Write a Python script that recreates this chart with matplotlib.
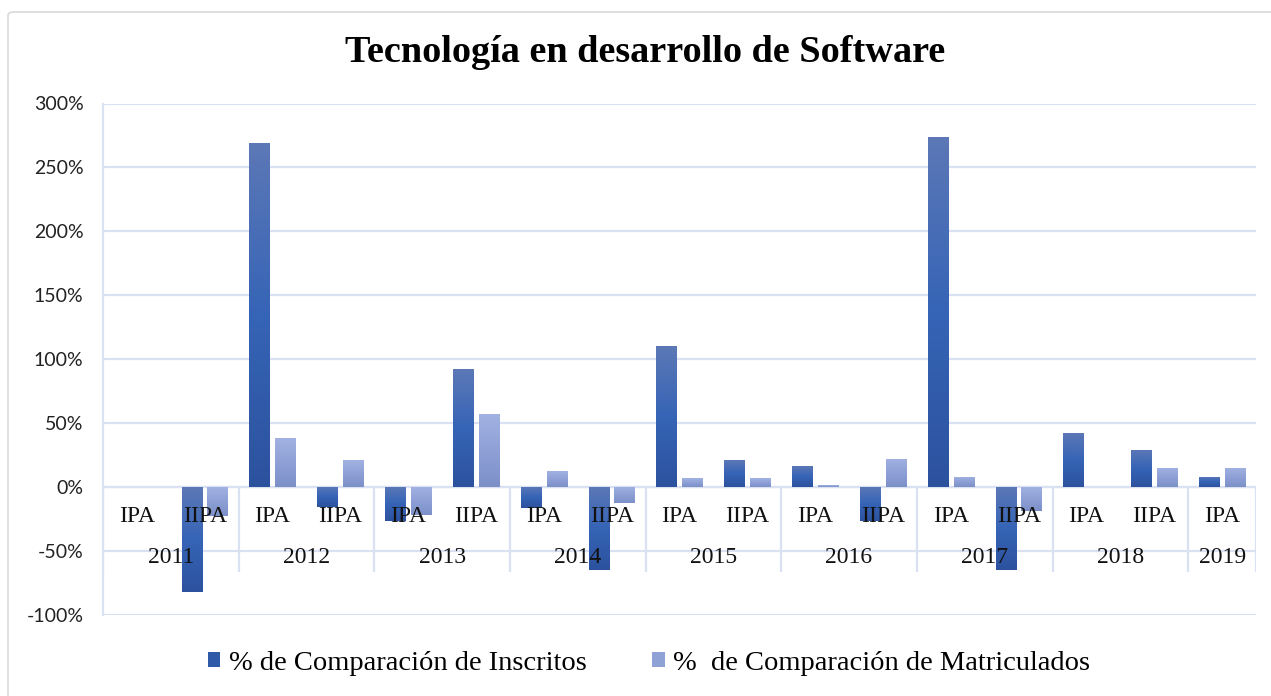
import numpy as np
import matplotlib
matplotlib.use("Agg")
import matplotlib.pyplot as plt
from matplotlib.patches import FancyBboxPatch

# ---- data ----
years = ["2011", "2012", "2013", "2014", "2015", "2016", "2017", "2018", "2019"]
periods = ["IPA", "IIPA", "IPA", "IIPA", "IPA", "IIPA", "IPA", "IIPA", "IPA",
           "IIPA", "IPA", "IIPA", "IPA", "IIPA", "IPA", "IIPA", "IPA"]
year_sizes = [2, 2, 2, 2, 2, 2, 2, 2, 1]
inscritos = [0, -82, 269, -16, -27, 92, -17, -65, 110, 21, 16, -27, 274, -65, 42, 29, 8]
matriculados = [0, -23, 38, 21, -22, 57, 12, -13, 7, 7, 1.5, 22, 8, -19, 0, 15, 15]
yticks = [-100, -50, 0, 50, 100, 150, 200, 250, 300]
title = "Tecnología en desarrollo de Software"
label_ins = "% de Comparación de Inscritos"
label_mat = "%  de Comparación de Matriculados"

W, H = 1271, 696
fig = plt.figure(figsize=(W / 100, H / 100), dpi=100)
fig.patch.set_facecolor("white")

# chart border
border = FancyBboxPatch((8 / W, 0.0 - 0.05), 1.2, (696 - 12) / H + 0.05,
                        boxstyle="round,pad=0,rounding_size=0.005",
                        transform=fig.transFigure, fill=False,
                        edgecolor="#d9d9d9", linewidth=1.2)
fig.patches.append(border)

left, right = 103 / W, 1256 / W
top_px, bot_px = 103.5, 614.5
ax = fig.add_axes([left, 1 - bot_px / H, right - left, (bot_px - top_px) / H])

x = np.arange(len(periods))
bw = 0.30
off = 0.19
grid_c = "#d9e1f2"

ins_bars = ax.bar(x - off, inscritos, bw, color="#3462b0", zorder=3, linewidth=0)
mat_bars = ax.bar(x + off, matriculados, bw, color="#90a4d8", zorder=3, linewidth=0)

def grad(stops, n=256):
    stops = np.array(stops, dtype=float) / 255.0
    pos = np.linspace(0, 1, len(stops))
    t = np.linspace(0, 1, n)
    arr = np.stack([np.interp(t, pos, stops[:, c]) for c in range(3)], axis=1)
    return arr[:, None, :]

g_ins = grad([(92, 120, 182), (54, 100, 182), (44, 82, 158)])
g_mat = grad([(162, 178, 226), (142, 160, 214), (124, 144, 200)])

for bars, g in ((ins_bars, g_ins), (mat_bars, g_mat)):
    for r in bars:
        x0, y0, w, h = r.get_x(), r.get_y(), r.get_width(), r.get_height()
        if h == 0:
            continue
        lo, hi = min(y0, y0 + h), max(y0, y0 + h)
        im = ax.imshow(g, extent=[x0, x0 + w, lo, hi], aspect="auto",
                       origin="upper", zorder=4, interpolation="bilinear")
        im.set_clip_path(r)

ax.set_xlim(-0.5, len(periods) - 0.5)
ax.set_ylim(-100, 300)
ax.set_yticks(yticks)
ax.set_yticklabels([f"{v}%" for v in yticks], fontsize=14, family="Lato",
                   color="#222222")
ax.tick_params(axis="y", length=0, pad=14)
ax.set_xticks([])
ax.grid(axis="y", color=grid_c, linewidth=1.6, zorder=0)
ax.set_axisbelow(True)
for s in ["top", "right", "bottom"]:
    ax.spines[s].set_visible(False)
ax.spines["left"].set_color(grid_c)
ax.spines["left"].set_linewidth(1.6)

# category axis within plot
ax.axhline(0, color=grid_c, linewidth=1.6, zorder=2)
bounds = np.concatenate([[0], np.cumsum(year_sizes)]) - 0.5
ax.vlines(bounds, -66.5, 0, color=grid_c, linewidth=1.6, zorder=2)
for i, p in enumerate(periods):
    ax.text(i, -23.5, p, ha="center", va="center", fontsize=17,
            family="Liberation Serif", color="#111111", zorder=5)
for j, yr in enumerate(years):
    cx = (bounds[j] + bounds[j + 1]) / 2
    ax.text(cx, -55.5, yr, ha="center", va="center", fontsize=17,
            family="Liberation Serif", color="#111111", zorder=5)

fig.text(645 / W, 1 - 52 / H, title, ha="center", va="center", fontsize=27.5,
         fontweight="bold", family="Liberation Serif", color="black")

handles = [ins_bars, mat_bars]
leg = fig.legend(handles, [label_ins, label_mat], loc="center",
                 bbox_to_anchor=(649 / W, 1 - 663 / H), ncol=2, frameon=False,
                 prop={"family": "Liberation Serif", "size": 20.5},
                 handlelength=0.45, handleheight=0.45, handletextpad=0.3,
                 columnspacing=2.3)
leg.legend_handles[0].set_color("#2f5aa8")
leg.legend_handles[1].set_color("#8ea2d6")

fig.savefig("out.png", dpi=100, facecolor="white")
